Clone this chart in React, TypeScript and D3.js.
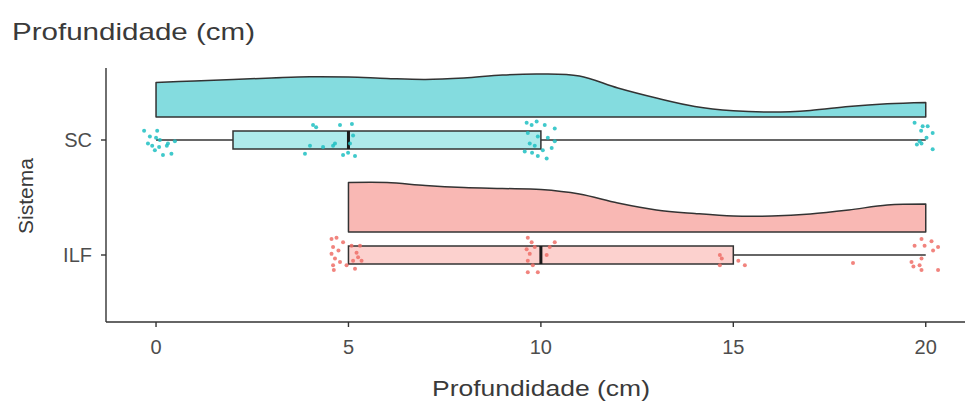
import React from "react";
import * as d3 from "d3";

const W = 968;
const H = 405;

const categories = ["SC", "ILF"];
const xTicks = [0, 5, 10, 15, 20];
const titleText = "Profundidade (cm)";
const xTitle = "Profundidade (cm)";
const yTitle = "Sistema";

// density grids (x in cm, relative density)
const densGrid = [0, 1, 2, 3, 4, 5, 6, 7, 8, 9, 10, 11, 12, 13, 14, 15, 16, 17, 18, 19, 20];
const scDensity = [34.6, 36, 37.5, 39, 40.3, 40, 38.5, 37.5, 39, 42, 43, 41, 29, 19, 10.6, 6.3, 5, 6.6, 10.6, 13.3, 14.6];
const ilfGrid = [5, 6, 7, 8, 9, 10, 11, 12, 13, 14, 15, 16, 17, 18, 19, 20];
const ilfDensity = [49.5, 49.5, 46.5, 44.5, 43.5, 42.5, 38, 29, 22, 18.5, 16, 16, 18, 22, 27, 28];

// box statistics: min, q1, median, q3, max
const scBox = [0, 2, 5, 10, 20];
const ilfBox = [5, 5, 10, 15, 20];

// jittered observations: value and vertical jitter (category units)
const scValues = [-0.31, -0.16, -0.21, -0.1, 0.03, 0.0, 0.1, 0.08, 0.18, 0.31, 0.28, -0.03, 0.49, 0.4,
  3.87, 4.0, 4.08, 4.16, 4.34, 4.6, 4.65, 4.78, 4.86, 4.99, 5.04, 5.09, 5.17, 5.12,
  9.63, 9.76, 9.89, 10.1, 10.36, 9.66, 9.92, 10.18, 10.36, 9.71, 9.84, 10.05, 9.77, 9.92, 10.15, 10.28, 9.58,
  19.71, 19.92, 20.05, 19.88, 20.18, 19.89, 19.84, 20.02, 20.18, 19.77];
const scJitter = [-0.08, -0.03, 0.03, 0.05, -0.08, -0.02, 0.0, 0.06, 0.13, 0.03, 0.05, 0.09, 0.01, 0.12,
  0.12, 0.05, -0.13, -0.11, 0.06, 0.05, 0.03, -0.13, 0.13, 0.11, 0.03, -0.14, 0.14, -0.04,
  -0.15, -0.13, -0.16, -0.13, -0.1, -0.06, -0.03, -0.02, 0.01, 0.03, 0.05, 0.09, 0.11, 0.14, 0.16, 0.07, 0.1,
  -0.15, -0.12, -0.12, -0.08, -0.06, 0.03, 0.01, -0.02, 0.08, 0.04];
const ilfValues = [4.56, 4.69, 4.6, 4.56, 4.65, 4.6, 4.74, 4.78, 5.08, 5.21, 5.3, 5.12, 5.17, 5.34, 4.95, 4.86, 4.62, 5.25,
  9.66, 9.76, 9.63, 9.71, 9.66, 9.79, 9.66, 9.92, 10.15, 10.36, 10.23, 9.84,
  14.65, 14.7, 14.65, 15.13, 15.3, 18.11,
  19.89, 20.15, 19.71, 19.97, 20.32, 20.19, 19.89, 19.63, 19.68, 19.89, 20.32, 19.84];
const ilfJitter = [-0.14, -0.15, -0.07, -0.01, 0.03, 0.09, -0.04, 0.06, -0.08, -0.02, -0.08, 0.05, 0.12, 0.05, 0.09, -0.11, 0.13, 0.02,
  -0.15, -0.11, -0.05, -0.01, 0.05, 0.09, 0.15, 0.15, 0.0, -0.11, -0.07, -0.07,
  0.0, 0.03, 0.09, 0.05, 0.09, 0.07,
  -0.14, -0.12, -0.08, -0.08, -0.07, -0.04, 0.03, 0.06, 0.1, 0.13, 0.13, 0.09];

const cols = {
  SC: { point: "#1fbfc2", dens: "#84dcdf", box: "#aeeaeb" },
  ILF: { point: "#ef6f67", dens: "#f9b8b4", box: "#fcd1ce" },
};

export default function App() {
  const left = 106, right = 965, top = 68, bottom = 322;
  const x = d3.scaleLinear().domain([-1.3, 21.02]).range([left, right]);
  const y = d3.scalePoint<string>().domain(categories).range([140, 255]);
  const catUnit = 115;
  const h = d3.scaleLinear().domain([0, 50]).range([0, 50]);
  const densOffset = 23;
  const boxHalf = 9;

  const series = [
    { key: "SC", grid: densGrid, dens: scDensity, box: scBox, vals: scValues, jit: scJitter },
    { key: "ILF", grid: ilfGrid, dens: ilfDensity, box: ilfBox, vals: ilfValues, jit: ilfJitter },
  ];

  const ink = "#333333";
  const curve = d3.curveCatmullRom.alpha(0.5);

  return (
    <svg width={W} height={H} style={{ position: "absolute", left: 0, top: 0, background: "#fff" }}
      fontFamily="'Liberation Sans', Arial, sans-serif">
      <text x={12} y={40} fontSize={24} fill="#3a3a3a" textLength={243} lengthAdjust="spacingAndGlyphs">{titleText}</text>

      {series.map((s) => {
        const c = (cols as any)[s.key];
        const cy = y(s.key)!;
        const base = cy - densOffset;
        const pts = s.grid.map((g, i) => [g, s.dens[i]] as [number, number]);
        const area = d3.area<[number, number]>()
          .x((d) => x(d[0]))
          .y0(base)
          .y1((d) => base - h(d[1]))
          .curve(curve);
        const outline = d3.line<[number, number]>()
          .x((d) => x(d[0]))
          .y((d) => base - h(d[1]))
          .curve(curve)(pts) + `L${x(s.grid[s.grid.length - 1])},${base}L${x(s.grid[0])},${base}Z`;
        const [mn, q1, md, q3, mx] = s.box;
        return (
          <g key={s.key}>
            <path d={area(pts)!} fill={c.dens} stroke="none" />
            <path d={outline} fill="none" stroke={ink} strokeWidth={1.5} strokeLinejoin="round" />
            {mn < q1 && <line x1={x(mn)} x2={x(q1)} y1={cy} y2={cy} stroke={ink} strokeWidth={1.3} />}
            {q3 < mx && <line x1={x(q3)} x2={x(mx)} y1={cy} y2={cy} stroke={ink} strokeWidth={1.3} />}
            <rect x={x(q1)} y={cy - boxHalf} width={x(q3) - x(q1)} height={boxHalf * 2} fill={c.box} stroke={ink} strokeWidth={1.5} />
            <line x1={x(md)} x2={x(md)} y1={cy - boxHalf} y2={cy + boxHalf} stroke="#1a1a1a" strokeWidth={3} />
            {s.vals.map((v, i) => (
              <circle key={i} cx={x(v)} cy={cy + s.jit[i] * catUnit} r={2} fill={c.point} opacity={0.85} />
            ))}
          </g>
        );
      })}

      {/* axes */}
      <line x1={left} x2={left} y1={top} y2={bottom} stroke="#333" strokeWidth={1.4} />
      <line x1={left} x2={right} y1={bottom} y2={bottom} stroke="#333" strokeWidth={1.4} />
      {xTicks.map((t) => (
        <g key={t}>
          <line x1={x(t)} x2={x(t)} y1={bottom} y2={bottom + 5} stroke="#333" strokeWidth={1.4} />
          <text x={x(t)} y={bottom + 32} fontSize={20} fill="#4d4d4d" textAnchor="middle">{t}</text>
        </g>
      ))}
      {categories.map((cName) => (
        <g key={cName}>
          <line x1={left - 5} x2={left} y1={y(cName)!} y2={y(cName)!} stroke="#333" strokeWidth={1.4} />
          <text x={left - 14} y={y(cName)!} dy="0.36em" fontSize={20} fill="#4d4d4d" textAnchor="end">{cName}</text>
        </g>
      ))}
      <text x={432} y={396} fontSize={22} fill="#3a3a3a" textLength={218} lengthAdjust="spacingAndGlyphs">{xTitle}</text>
      <text transform={`translate(33,196) rotate(-90)`} fontSize={21} fill="#3a3a3a" textAnchor="middle">{yTitle}</text>
    </svg>
  );
}
